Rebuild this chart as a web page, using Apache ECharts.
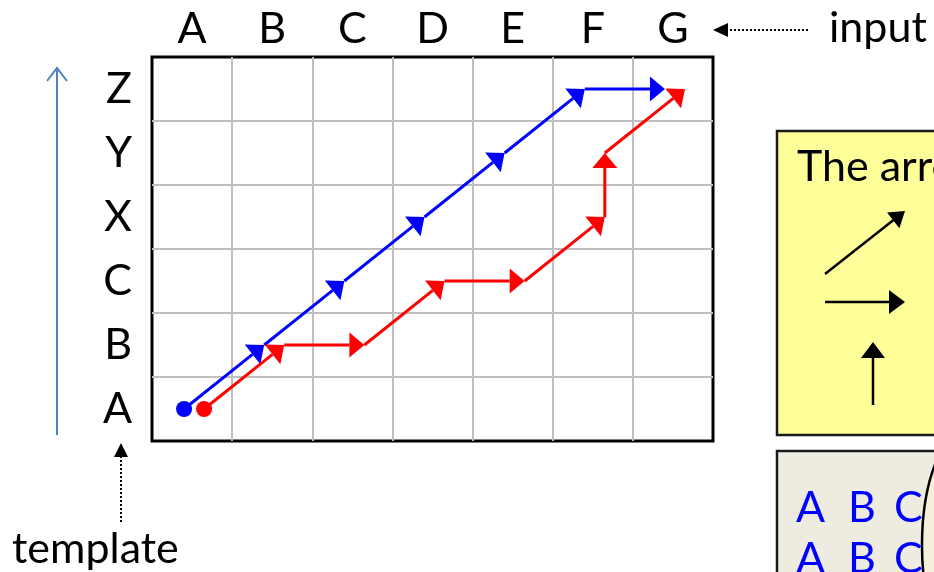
<!DOCTYPE html>
<html>
<head>
<meta charset="utf-8">
<script src="https://cdn.jsdelivr.net/npm/echarts@6/dist/echarts.min.js"></script>
<style>
  html, body { margin: 0; padding: 0; background: #ffffff; }
  #chart { width: 934px; height: 572px; }
</style>
</head>
<body>
<div id="chart"></div>
<script>
// ---- data ----
const inputLabels = ['A', 'B', 'C', 'D', 'E', 'F', 'G'];      // columns (input)
const templateLabels = ['A', 'B', 'C', 'X', 'Y', 'Z'];        // rows, bottom to top (template)
const bluePath = [['A','A'], ['B','B'], ['C','C'], ['D','X'], ['E','Y'], ['F','Z'], ['G','Z']];
const redPath  = [['A','A'], ['B','B'], ['C','B'], ['D','C'], ['E','C'], ['F','X'], ['F','Y'], ['G','Z']];

// ---- helpers ----
const FONT = 'Lato';
const FS = 43;
function toXY(pt, off) {
  return [inputLabels.indexOf(pt[0]) + 0.5 + off, templateLabels.indexOf(pt[1]) + 0.5];
}
function segments(path, off) {
  const out = [];
  for (let i = 1; i < path.length; i++) {
    const a = toXY(path[i - 1], off), b = toXY(path[i], off);
    out.push([a[0], a[1], b[0], b[1]]);
  }
  return out;
}
function renderArrow(params, api) {
  const p0 = api.coord([api.value(0), api.value(1)]);
  const p1 = api.coord([api.value(2), api.value(3)]);
  const color = api.visual('color');
  const dx = p1[0] - p0[0], dy = p1[1] - p0[1];
  const len = Math.sqrt(dx * dx + dy * dy);
  const ux = dx / len, uy = dy / len;
  const L = 15, W = 12.5;
  const bx = p1[0] - ux * L, by = p1[1] - uy * L;
  return {
    type: 'group',
    children: [
      { type: 'line', shape: { x1: p0[0], y1: p0[1], x2: bx, y2: by },
        style: { stroke: color, lineWidth: 3 } },
      { type: 'polygon', shape: { points: [[p1[0], p1[1]], [bx - uy * W, by + ux * W], [bx + uy * W, by - ux * W]] },
        style: { fill: color } }
    ]
  };
}
const BLUE_OFF = -0.1, RED_OFF = 0.15;

function arrowShape(x1, y1, x2, y2, L, W, color, lw, dash) {
  const dx = x2 - x1, dy = y2 - y1, len = Math.sqrt(dx * dx + dy * dy);
  const ux = dx / len, uy = dy / len;
  const bx = x2 - ux * L, by = y2 - uy * L;
  return [
    { type: 'line', shape: { x1: x1, y1: y1, x2: bx, y2: by },
      style: { stroke: color, lineWidth: lw, lineDash: dash || null } },
    { type: 'polygon', shape: { points: [[x2, y2], [bx - uy * W, by + ux * W], [bx + uy * W, by - ux * W]] },
      style: { fill: color } }
  ];
}
function txt(x, y, s, color) {
  return { type: 'text', x: x, y: y,
    style: { text: s, fill: color || '#000', font: FS + 'px ' + FONT, verticalAlign: 'middle', align: 'left' } };
}

const chart = echarts.init(document.getElementById('chart'), null, { renderer: 'canvas' });
const graphics = []
  // left blue template arrow
  .concat([
    { type: 'line', shape: { x1: 57, y1: 435, x2: 57, y2: 68 }, style: { stroke: '#4f81bd', lineWidth: 2 } },
    { type: 'polyline', shape: { points: [[47, 81], [57, 68], [67, 81]] }, style: { stroke: '#4f81bd', lineWidth: 2, fill: null } }
  ])
  // input arrow
  .concat(arrowShape(808, 30, 713, 30, 15, 7, '#000', 2, [2, 2]))
  // template arrow
  .concat(arrowShape(121, 522, 121, 443, 14, 7, '#000', 2, [2, 2]))
  .concat([
    txt(829, 28, 'input'),
    txt(12, 549, 'template'),
    // yellow box
    { type: 'rect', shape: { x: 777, y: 131, width: 220, height: 304 },
      style: { fill: '#ffff99', stroke: '#1a1a1a', lineWidth: 2.5 } },
    txt(797, 167, 'The arrows'),
    // grey box
    { type: 'rect', shape: { x: 777, y: 451, width: 220, height: 200 },
      style: { fill: '#eeebe0', stroke: '#1a1a1a', lineWidth: 2.5 } },
    { type: 'ellipse', shape: { cx: 972, cy: 545, rx: 50, ry: 120 },
      style: { fill: '#f4f0da', stroke: '#000', lineWidth: 2.5 } },
    txt(796, 508, 'A', '#0000ff'), txt(848, 508, 'B', '#0000ff'), txt(894, 508, 'C', '#0000ff'),
    txt(796, 559, 'A', '#0000ff'), txt(848, 559, 'B', '#0000ff'), txt(894, 559, 'C', '#0000ff')
  ])
  .concat(arrowShape(825, 274, 905, 211, 15, 10, '#000', 2.5))
  .concat(arrowShape(825, 302, 905, 302, 16, 12, '#000', 2.5))
  .concat(arrowShape(873, 405, 873, 342, 16, 12, '#000', 2.5));

chart.setOption({
  animation: false,
  backgroundColor: '#ffffff',
  grid: { left: 152, top: 57, width: 561, height: 384, show: true, borderColor: '#000', borderWidth: 3, backgroundColor: 'transparent' },
  xAxis: [
    { type: 'value', min: 0, max: inputLabels.length, interval: 1, position: 'bottom',
      axisLine: { show: false }, axisTick: { show: false }, axisLabel: { show: false },
      splitLine: { show: true, showMinLine: false, showMaxLine: false, lineStyle: { color: '#bfbfbf', width: 2 } } },
    { type: 'category', data: inputLabels, position: 'top', boundaryGap: true,
      axisLine: { show: false }, axisTick: { show: false }, splitLine: { show: false },
      axisLabel: { fontSize: FS, fontFamily: FONT, color: '#000', margin: 6 } }
  ],
  yAxis: [
    { type: 'value', min: 0, max: templateLabels.length, interval: 1, position: 'left',
      axisLine: { show: false }, axisTick: { show: false }, axisLabel: { show: false },
      splitLine: { show: true, showMinLine: false, showMaxLine: false, lineStyle: { color: '#bfbfbf', width: 2 } } },
    { type: 'category', data: templateLabels, position: 'left', boundaryGap: true,
      axisLine: { show: false }, axisTick: { show: false }, splitLine: { show: false },
      axisLabel: { fontSize: FS, fontFamily: FONT, color: '#000', margin: 20 } }
  ],
  series: [
    { type: 'custom', name: 'blue', coordinateSystem: 'cartesian2d', xAxisIndex: 0, yAxisIndex: 0,
      itemStyle: { color: '#0000ff' }, renderItem: renderArrow, encode: { x: [0, 2], y: [1, 3] },
      data: segments(bluePath, BLUE_OFF), z: 3 },
    { type: 'custom', name: 'red', coordinateSystem: 'cartesian2d', xAxisIndex: 0, yAxisIndex: 0,
      itemStyle: { color: '#ff0000' }, renderItem: renderArrow, encode: { x: [0, 2], y: [1, 3] },
      data: segments(redPath, RED_OFF), z: 3 },
    { type: 'scatter', xAxisIndex: 0, yAxisIndex: 0, symbol: 'circle', symbolSize: 16,
      itemStyle: { color: '#0000ff', opacity: 1 }, data: [toXY(bluePath[0], BLUE_OFF)], z: 4 },
    { type: 'scatter', xAxisIndex: 0, yAxisIndex: 0, symbol: 'circle', symbolSize: 16,
      itemStyle: { color: '#ff0000', opacity: 1 }, data: [toXY(redPath[0], RED_OFF)], z: 4 }
  ],
  graphic: { elements: graphics }
});
</script>
</body>
</html>
